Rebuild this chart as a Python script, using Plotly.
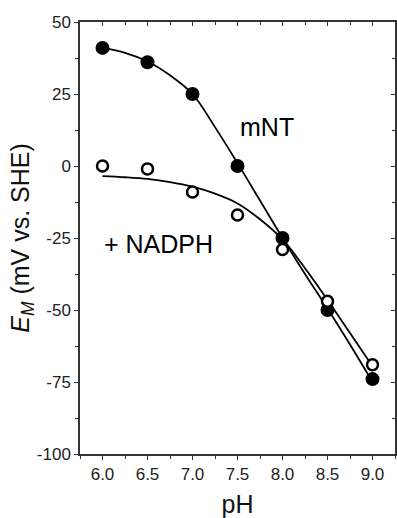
import plotly.graph_objects as go

# Measured points
ph = [6.0, 6.5, 7.0, 7.5, 8.0, 8.5, 9.0]
em_mnt = [41, 36, 25, 0, -25, -50, -74]
em_nadph = [0, -1, -9, -17, -29, -47, -69]

# Fitted curves
fit_ph = [6.0, 6.25, 6.5, 6.75, 7.0, 7.25, 7.5, 7.75, 8.0, 8.25, 8.5, 8.75, 9.0]
fit_mnt = [41, 39.3, 36.3, 31.5, 25, 13.5, 1, -12, -25, -37.5, -49.5, -62, -75]
fit_nadph = [-3.5, -3.9, -4.5, -5.6, -7.2, -9.6, -13, -18.5, -25.5, -35.5, -46.5, -58, -69.5]

x_ticks = [6.0, 6.5, 7.0, 7.5, 8.0, 8.5, 9.0]
x_tick_labels = ["6.0", "6.5", "7.0", "7.5", "8.0", "8.5", "9.0"]
y_ticks = [-100, -75, -50, -25, 0, 25, 50]
y_tick_labels = ["-100", "-75", "-50", "-25", "0", "25", "50"]

XR = [5.75, 9.25]
YR = [-100, 50]
AX = "#333333"
FONT = "Liberation Sans, Arial, sans-serif"

fig = go.Figure()
fig.add_trace(go.Scatter(x=fit_ph, y=fit_mnt, mode="lines", line=dict(color="black", width=1.8, shape="spline"),
                         showlegend=False, hoverinfo="skip"))
fig.add_trace(go.Scatter(x=fit_ph, y=fit_nadph, mode="lines", line=dict(color="black", width=1.8, shape="spline"),
                         showlegend=False, hoverinfo="skip"))
fig.add_trace(go.Scatter(x=ph, y=em_mnt, mode="markers",
                         marker=dict(symbol="circle", size=14, color="black", line=dict(width=0)),
                         showlegend=False))
fig.add_trace(go.Scatter(x=ph, y=em_nadph, mode="markers",
                         marker=dict(symbol="circle", size=11, color="white", line=dict(color="black", width=2.5)),
                         showlegend=False))
# invisible traces to anchor the mirror axes (top and right, ticks pointing inward)
fig.add_trace(go.Scatter(x=[XR[0]], y=[YR[0]], xaxis="x2", yaxis="y", mode="markers",
                         marker=dict(opacity=0), showlegend=False, hoverinfo="skip"))
fig.add_trace(go.Scatter(x=[XR[0]], y=[YR[0]], xaxis="x", yaxis="y2", mode="markers",
                         marker=dict(opacity=0), showlegend=False, hoverinfo="skip"))

fig.update_layout(
    width=397, height=518,
    margin=dict(l=80, r=2, t=22, b=62),
    paper_bgcolor="white", plot_bgcolor="white",
    font=dict(family=FONT, color="black"),
    xaxis=dict(range=XR, tickvals=x_ticks, ticktext=x_tick_labels, ticks="outside", ticklen=4,
               tickwidth=1.3, tickcolor=AX, showline=True, linecolor=AX, linewidth=1.5,
               showgrid=False, zeroline=False, tickfont=dict(size=17, color="#222"),
               minor=dict(tickvals=[5.75, 6.25, 6.75, 7.25, 7.75, 8.25, 8.75, 9.25], ticks="outside",
                          ticklen=3, tickwidth=1.3, tickcolor=AX, showgrid=False),
               title=dict(text="pH", font=dict(size=25, color="#111"), standoff=14)),
    yaxis=dict(range=YR, tickvals=y_ticks, ticktext=y_tick_labels, ticks="outside", ticklen=4,
               tickwidth=1.3, tickcolor=AX, showline=True, linecolor=AX, linewidth=1.5,
               showgrid=False, zeroline=False, tickfont=dict(size=17, color="#222"),
               minor=dict(tickvals=[-87.5, -62.5, -37.5, -12.5, 12.5, 37.5], ticks="outside",
                          ticklen=3, tickwidth=1.3, tickcolor=AX, showgrid=False),
               title=dict(text="<i>E</i><sub><i>M</i></sub> (mV vs. SHE)", font=dict(size=25, color="#111"),
                          standoff=0)),
    xaxis2=dict(range=XR, overlaying="x", side="top", anchor="y", tickvals=x_ticks, ticks="inside",
                ticklen=4, tickwidth=1.3, tickcolor=AX, showticklabels=False, showgrid=False,
                zeroline=False, showline=True, linecolor=AX, linewidth=1.5,
                minor=dict(tickvals=[6.25, 6.75, 7.25, 7.75, 8.25, 8.75], ticks="inside", ticklen=3,
                           tickwidth=1.3, tickcolor=AX, showgrid=False)),
    yaxis2=dict(range=YR, overlaying="y", side="right", anchor="x", tickvals=y_ticks, ticks="inside",
                ticklen=4, tickwidth=1.3, tickcolor=AX, showticklabels=False, showgrid=False,
                zeroline=False, showline=True, linecolor=AX, linewidth=1.5,
                minor=dict(tickvals=[-87.5, -62.5, -37.5, -12.5, 12.5, 37.5], ticks="inside", ticklen=3,
                           tickwidth=1.3, tickcolor=AX, showgrid=False)),
    annotations=[
        dict(x=7.83, y=13.4, xref="x", yref="y", text="mNT", showarrow=False,
             font=dict(size=25, color="black", family=FONT)),
        dict(x=6.62, y=-27.1, xref="x", yref="y", text="+ NADPH", showarrow=False,
             font=dict(size=25, color="black", family=FONT)),
    ],
)

fig.write_html("out.html", config={"displayModeBar": False},
               post_script="document.body.style.margin='0';document.body.style.overflow='hidden';")
